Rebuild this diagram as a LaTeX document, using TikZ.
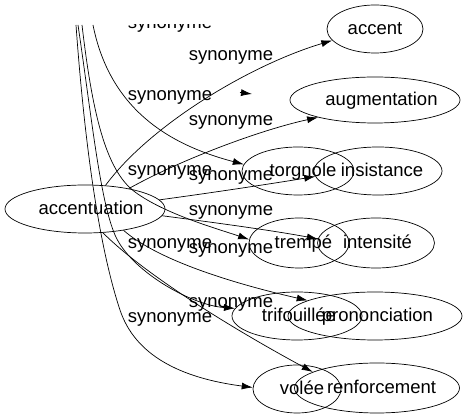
\documentclass[tikz,border=0pt]{standalone}
\usepackage{fontspec}
\setmainfont{Liberation Sans}
\usetikzlibrary{shapes.geometric,arrows.meta}

\begin{document}
\begin{tikzpicture}[
    x=1pt, y=-1pt,
    word/.style={draw, ellipse, inner sep=1pt, line width=0.7pt,
      text height=15pt, text depth=3pt,
      font=\fontsize{18.5}{20}\selectfont},
    lbl/.style={inner sep=0pt, anchor=base,
      font=\fontsize{18.5}{20}\selectfont},
    edge/.style={->, line width=0.7pt},
    >={Latex[length=11pt,width=7pt]}
    ]
    \useasboundingbox (0,0) rectangle (467,419);

    % Words
    \node[word, minimum width=160pt, minimum height=48pt] (acn) at (85,209)
        {\makebox[0pt]{\hspace*{12pt}accentuation}};
    \foreach \nm/\x/\y/\w/\h/\o/\txt in {
        acc/375/29/96/48/0/accent,
        aug/375/100/170/46/13/augmentation,
        tor/298/171/112/48/10/torgnole,
        ins/378/171/128/48/8/insistance,
        tre/299/243/100/50/9/trempé,
        int/376/243/117/50/3/intensité,
        tri/297/316/130/48/4/trifouillée,
        pro/375/316/174/48/5/prononciation,
        vol/297/389/88/48/10/volée,
        ren/377/388/165/50/9/renforcement}
        \node[word, minimum width=\w pt, minimum height=\h pt] (\nm) at (\x,\y)
            {\makebox[0pt]{\hspace*{\o pt}\txt}};

    % Labels
    \foreach \i/\x/\y in {2/231/61, 3/170/101, 4/231/126, 5/170/176, 6/231/181,
        7/231/216, 8/170/249, 9/231/254, 10/231/308, 11/170/323}
        \node[lbl] (l\i) at (\x,\y) {synonyme};
    \begin{scope}
        \clip (0,25) rectangle (467,419);
        \node[lbl] (l1) at (170,29) {synonyme};
    \end{scope}

    % Edges from accentuation
    \foreach \s/\ax/\ay/\bx/\by/\t in {
        49/150/125/250/65/acc.195,
        25/180/160/260/130/aug.197,
        7/210/193/270/184/ins.185,
        355/210/222/270/230/int.176,
        331/160/262/240/285/pro.167,
        307/145/275/235/330/ren.166}
        \draw[edge] (acn.\s) .. controls (\ax,\ay) and (\bx,\by) .. (\t);

    % Edges from above
    \coordinate (s1) at (76,25);
    \coordinate (s2) at (78,25);
    \coordinate (s3) at (82,25);
    \coordinate (s4) at (93,25);
    \draw[edge] (s1) .. controls (85,150) and (100,250) .. (120,310)
        .. controls (135,355) and (180,378) .. (vol.178);
    \draw[edge] (s2) .. controls (92,120) and (100,200) .. (115,235)
        .. controls (130,270) and (190,305) .. (tri.173);
    \draw[edge] (s3) .. controls (92,110) and (105,170) .. (135,192)
        .. controls (165,214) and (215,228) .. (tre.176);
    \draw[edge] (s4) .. controls (110,110) and (170,145) .. (tor.173);

    % Lone tip
    \coordinate (g1) at (240,92.5);
    \coordinate (g2) at (252,94);
    \draw[edge] (g1) -- (g2);
\end{tikzpicture}
\end{document}
